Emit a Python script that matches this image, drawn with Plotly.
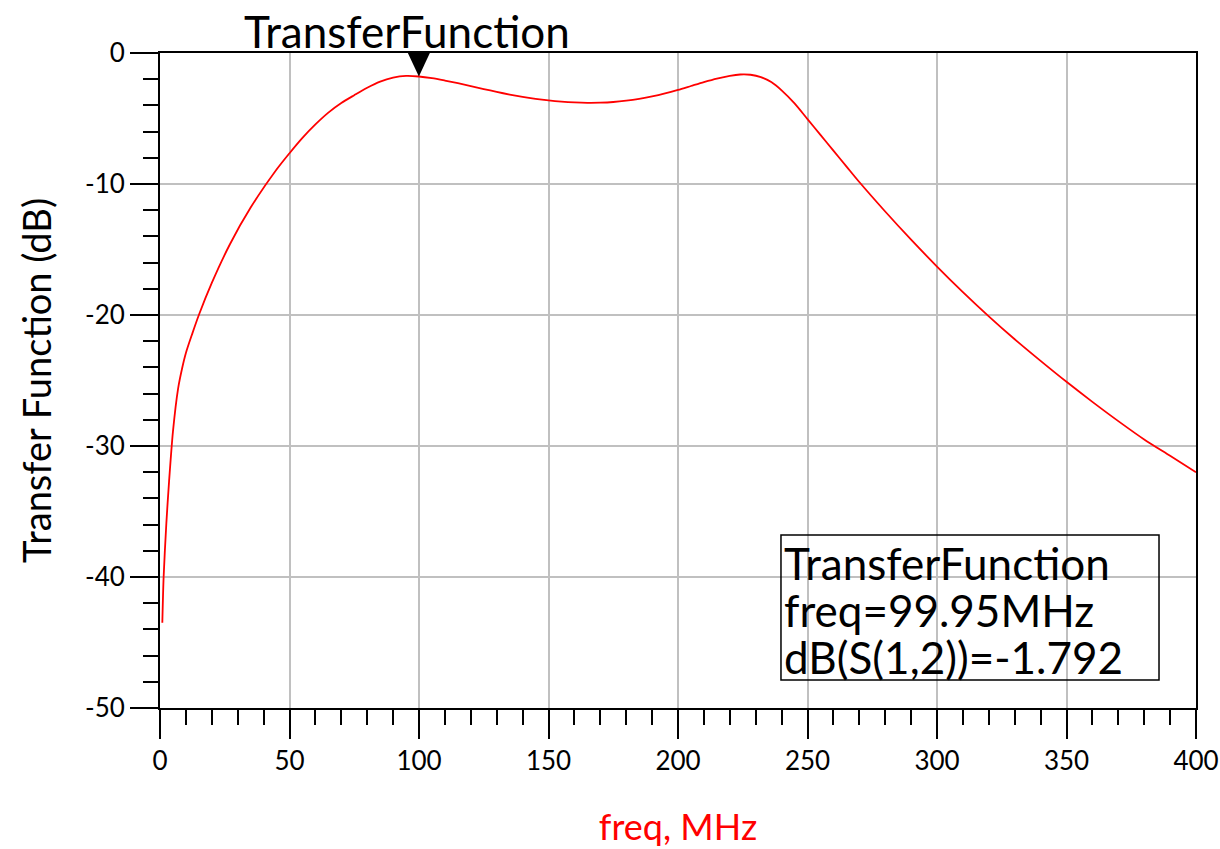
import plotly.graph_objects as go

# Sampled S21 response of the band-pass network (frequency in MHz, magnitude in dB)
freq_mhz = [0.9, 1.4, 2.45, 3.5, 5, 7, 8.5, 10, 12.5, 15, 20, 27, 35, 45, 50, 55,
            60, 65, 70, 75, 80, 85, 90, 95, 99.95, 105, 110, 115, 120, 125, 130,
            135, 140, 145, 150, 155, 160, 165, 170, 175, 180, 185, 190, 195, 200,
            205, 210, 215, 220, 224, 228, 232, 236, 240, 245, 250, 255, 260, 265,
            270, 280, 290, 300, 310, 320, 330, 340, 350, 360, 370, 380, 390, 400]
s21_db = [-43.5, -40.0, -35.9, -32.7, -28.9, -25.6, -24.1, -22.9, -21.4, -20.0,
          -17.55, -14.6, -11.8, -8.9, -7.65, -6.48, -5.45, -4.55, -3.82, -3.22,
          -2.65, -2.18, -1.88, -1.75, -1.792, -1.92, -2.1, -2.3, -2.52, -2.75,
          -2.97, -3.17, -3.35, -3.5, -3.62, -3.71, -3.77, -3.8, -3.79, -3.74,
          -3.64, -3.5, -3.32, -3.09, -2.82, -2.52, -2.22, -1.95, -1.74, -1.64,
          -1.66, -1.84, -2.22, -2.85, -3.85, -5.05, -6.25, -7.45, -8.65, -9.85,
          -12.1, -14.25, -16.3, -18.25, -20.1, -21.85, -23.5, -25.1, -26.63,
          -28.1, -29.5, -30.75, -32.0]

# Marker readout
marker_name = "TransferFunction"
marker_freq = 99.95
marker_db = -1.792
readout_lines = [marker_name,
                 f"freq={marker_freq:.2f}MHz",
                 f"dB(S(1,2))={marker_db:.3f}"]

# Axis ticks
x_ticks = [0, 50, 100, 150, 200, 250, 300, 350, 400]
y_ticks = [0, -10, -20, -30, -40, -50]
y_tick_labels = ["0", "-10", "-20", "-30", "-40", "-50"]

FONT = "Lato"
X_RANGE = [0, 400]
Y_RANGE = [-50, 0]
PLOT_W = 1036  # plot-area width in px

fig = go.Figure()
fig.add_trace(go.Scatter(
    x=freq_mhz, y=s21_db, mode="lines",
    line=dict(color="#ff0000", width=1.8, shape="spline", smoothing=0.8),
    hoverinfo="x+y", showlegend=False,
))

# Downward triangle marker whose tip sits on the marked sample
half_w = 11 * (X_RANGE[1] - X_RANGE[0]) / PLOT_W
fig.add_shape(
    type="path", xref="x", yref="y",
    path=(f"M {marker_freq - half_w},{Y_RANGE[1]} "
          f"L {marker_freq + half_w},{Y_RANGE[1]} "
          f"L {marker_freq},{marker_db} Z"),
    fillcolor="black", line=dict(color="black", width=0),
)

# Marker name above the plot
fig.add_annotation(
    x=marker_freq, xref="x", y=1, yref="paper",
    xanchor="center", yanchor="bottom", xshift=-12, yshift=-6,
    text=marker_name, showarrow=False,
    font=dict(family=FONT, size=44, color="black"),
)

# Marker readout box (frame + three text lines)
fig.add_shape(
    type="rect", xref="paper", yref="paper",
    x0=0.5994, x1=0.9643, y0=0.0427, y1=0.2641,
    line=dict(color="black", width=1.5), fillcolor="rgba(0,0,0,0)",
)
for line_text, y_pos in zip(readout_lines, [0.2214, 0.1496, 0.0779]):
    fig.add_annotation(
        x=0.6, xref="paper", y=y_pos, yref="paper",
        xanchor="left", yanchor="middle", align="left",
        text=line_text, showarrow=False,
        font=dict(family=FONT, size=44, color="black"),
    )

axis_common = dict(
    showline=True, linecolor="black", linewidth=2, mirror=True,
    showgrid=True, gridcolor="#c0c0c0", gridwidth=2,
    ticks="outside", tickcolor="black", tickwidth=2,
    tickfont=dict(family=FONT, size=26, color="black"),
    zeroline=False,
)

fig.update_xaxes(
    **axis_common, range=X_RANGE, tickvals=x_ticks, ticklen=29,
    minor=dict(dtick=10, ticks="outside", ticklen=15, tickcolor="black",
               tickwidth=2, showgrid=False),
    title=dict(text="freq, MHz", font=dict(family=FONT, size=36, color="#ff0000"),
               standoff=40),
)
fig.update_yaxes(
    **axis_common, range=Y_RANGE, tickvals=y_ticks, ticktext=y_tick_labels,
    ticklen=28,
    minor=dict(dtick=2, ticks="outside", ticklen=15, tickcolor="black",
               tickwidth=2, showgrid=False),
    title=dict(text="Transfer Function (dB)",
               font=dict(family=FONT, size=38, color="black"), standoff=22),
)

fig.update_layout(
    width=1220, height=849,
    margin=dict(l=160, r=24, t=53, b=141, autoexpand=False),
    paper_bgcolor="white", plot_bgcolor="white",
)

fig.write_html("out.html")
